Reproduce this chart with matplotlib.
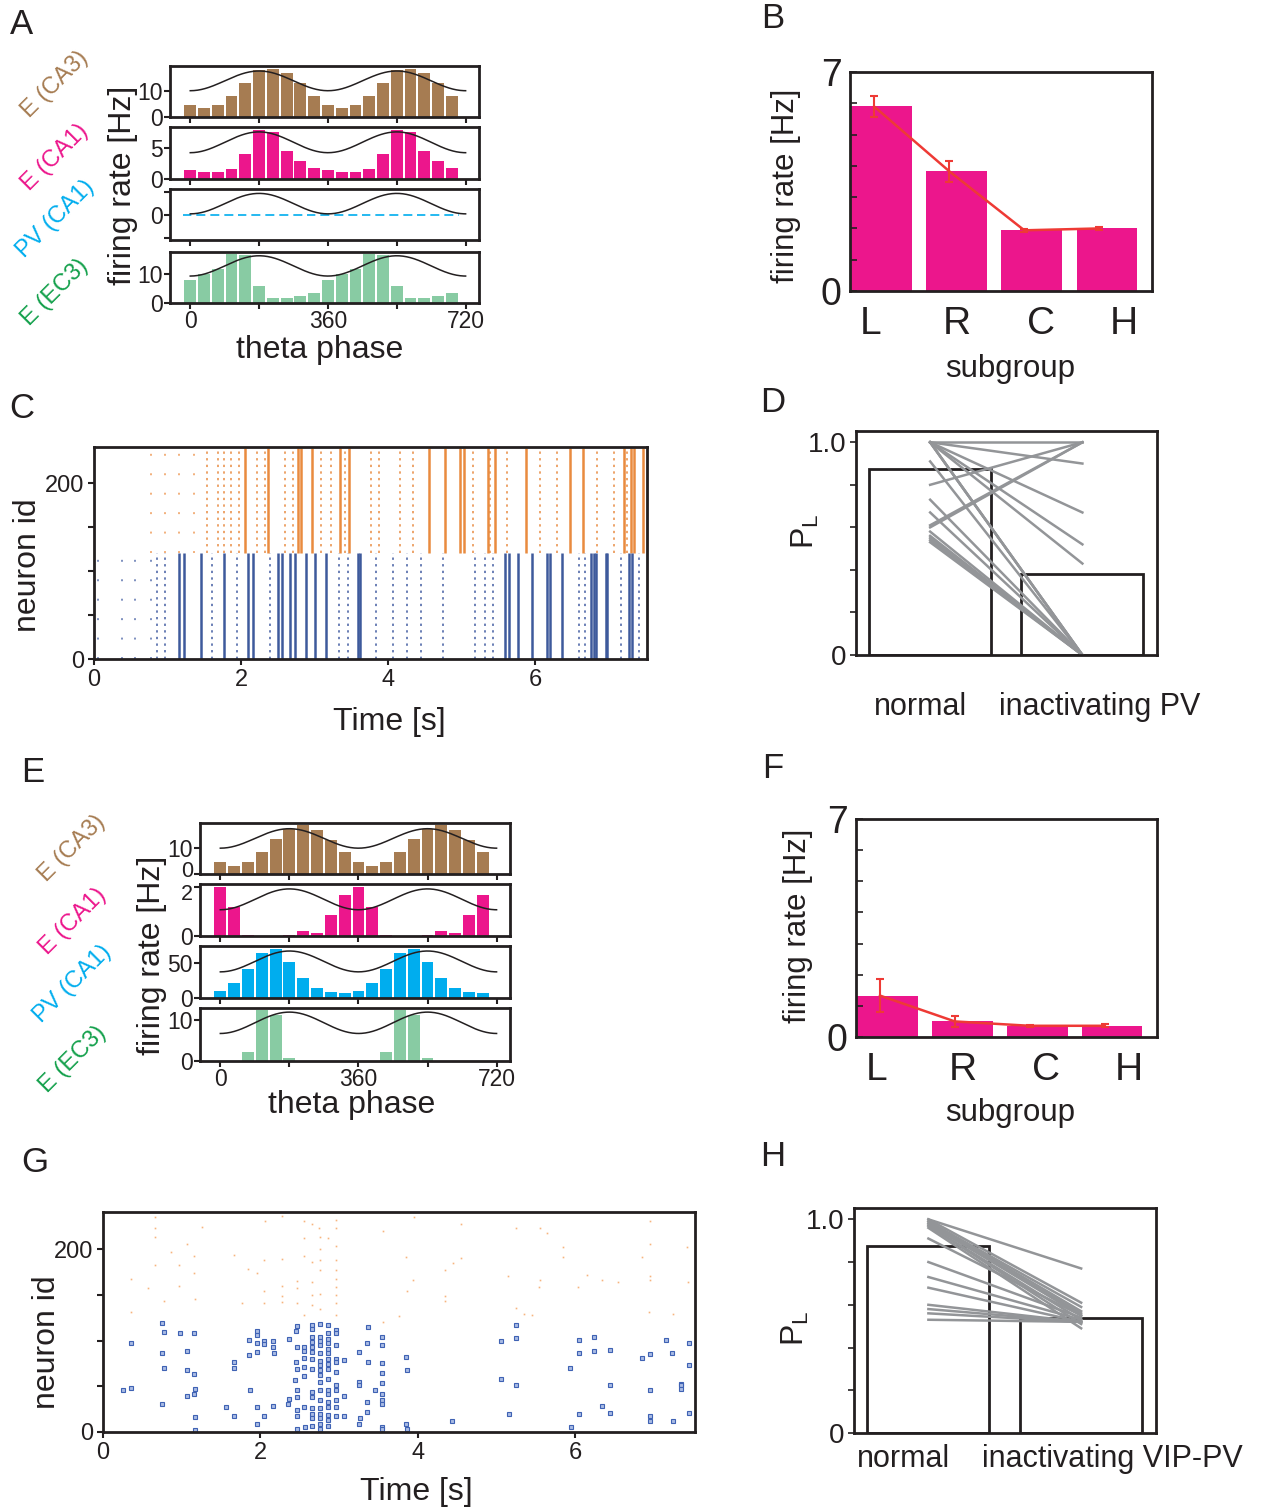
import matplotlib
matplotlib.use('Agg')
import matplotlib.pyplot as plt
import matplotlib.transforms as mtransforms
import numpy as np

plt.rcParams['font.family'] = ['Liberation Sans', 'DejaVu Sans']

# ---------------- data ----------------
phase_bins = [0, 36, 72, 108, 144, 180, 216, 252, 288, 324,
              360, 396, 432, 468, 504, 540, 576, 612, 648, 684]

# panel A (normal)
a_ca3 = [4.4, 3.3, 4.4, 8.1, 13.1, 17.7, 18.4, 16.9, 13.1, 8.1,
         4.4, 3.3, 4.4, 8.1, 13.1, 17.7, 18.4, 16.9, 13.1, 8.1]
a_ca1 = [1.5, 1.1, 1.1, 1.6, 4.1, 8.0, 7.7, 4.6, 2.9, 1.8,
         1.5, 1.1, 1.1, 1.6, 4.1, 8.0, 7.7, 4.6, 2.9, 1.8]
a_pv = [0] * 20
a_ec3 = [8.0, 10.0, 11.7, 16.8, 16.4, 5.9, 1.8, 1.8, 2.5, 3.5,
         8.0, 10.0, 11.7, 16.8, 16.4, 5.9, 1.8, 1.8, 2.5, 3.5]

# panel E (inactivating VIP-PV)
e_ca3 = [4.6, 3.0, 4.6, 8.4, 13.1, 17.1, 18.4, 16.5, 12.8, 8.4,
         4.6, 3.0, 4.6, 8.4, 13.1, 17.1, 18.4, 16.5, 12.8, 8.4]
e_ca1 = [2.0, 1.18, 0.04, 0, 0, 0.04, 0.2, 0.12, 0.86, 1.68,
         2.0, 1.18, 0.04, 0, 0, 0.04, 0.2, 0.12, 0.86, 1.68]
e_pv = [10.5, 21.9, 41.9, 64.3, 70.0, 51.9, 29.0, 14.8, 9.0, 7.6,
        10.5, 21.9, 41.9, 64.3, 70.0, 51.9, 29.0, 14.8, 9.0, 7.6]
e_ec3 = [0, 0, 2.25, 12.3, 11.1, 0.75, 0, 0, 0, 0,
         0, 0, 2.25, 12.3, 11.1, 0.75, 0, 0, 0, 0]

# theta reference wave (min, max) per row
a_wave = [(10, 17.5), (4.3, 7.7), (0.04, 0.83), (9.3, 16.3)]
e_wave = [(9.75, 17.1), (1.07, 1.92), (37.6, 67.6), (6.7, 11.9)]

# panels B / F
subgroups = ['L', 'R', 'C', 'H']
subgroup_label_pos = [-0.15, 1.0, 2.12, 3.22]
b_rate = [5.9, 3.85, 1.94, 2.0]
b_line = [5.9, 3.83, 1.94, 2.0]
b_err = [0.33, 0.33, 0.05, 0.05]
f_rate = [1.33, 0.52, 0.34, 0.36]
f_line = [1.33, 0.5, 0.36, 0.36]
f_err = [0.53, 0.19, 0.04, 0.05]

# panels D / H
d_bar = [0.875, 0.382]
d_normal = [1.0, 1.0, 1.0, 1.0, 1.0, 1.0, 1.0, 1.0, 0.91, 0.80,
            0.73, 0.67, 0.61, 0.60, 0.58, 0.56, 0.55, 0.54, 0.53]
d_inact = [1.0, 0.90, 0.67, 0.52, 0.43, 0.0, 0.0, 0.0, 0.0, 1.0,
           0.0, 0.0, 1.0, 1.0, 0.0, 0.0, 0.0, 0.0, 0.0]
h_bar = [0.874, 0.538]
h_normal = [1.0, 1.0, 0.99, 0.99, 0.98, 0.98, 0.97, 0.97, 0.96,
            0.91, 0.80, 0.73, 0.68, 0.60, 0.58, 0.56, 0.53]
h_inact = [0.77, 0.61, 0.59, 0.57, 0.56, 0.55, 0.53, 0.51, 0.49,
           0.55, 0.54, 0.53, 0.52, 0.52, 0.52, 0.52, 0.52]

# panel C raster: population burst times [s]
c_e_strong = [2.05, 2.36, 2.78, 2.82, 2.96, 3.34, 3.47, 4.56, 4.77, 4.98, 5.03,
              5.36, 5.45, 5.88, 6.47, 6.65, 7.21, 7.30, 7.34, 7.46]
c_e_weak = [1.54, 1.68, 1.77, 1.86, 1.97, 2.22, 2.32, 2.60, 2.70, 3.09, 3.22,
            3.41, 3.77, 3.88, 4.16, 4.34, 5.16, 5.39, 5.61, 6.07, 6.30, 6.84,
            7.07, 7.25]
c_e_sparse = [0.77, 0.97, 1.16, 1.36]
c_i_strong = [1.15, 1.22, 1.46, 1.77, 2.09, 2.16, 2.50, 2.55, 2.67, 2.73, 2.88,
              3.01, 3.16, 3.59, 3.62, 5.59, 5.64, 5.77, 5.95, 6.16, 6.20, 6.37,
              6.76, 6.80, 6.83, 6.96, 6.98, 7.28, 7.32]
c_i_weak = [0.86, 0.97, 1.61, 1.95, 2.40, 3.33, 3.45, 3.84, 4.07, 4.25, 4.45,
            4.75, 5.18, 5.32, 5.43, 6.59, 6.68, 7.16, 7.41]
c_i_sparse = [0.06, 0.38, 0.56, 0.77]

# panel G raster: individual spikes (time [s], neuron id)
g_pv_t = [0.36, 0.26, 0.36, 0.75, 0.77, 0.75, 0.77, 0.75, 0.98, 1.16, 1.07, 1.07,
          1.16, 1.17, 1.16, 1.07, 1.17, 1.17, 1.67, 1.67, 1.56, 1.67, 1.86, 1.96,
          1.96, 1.95, 2.05, 2.05, 2.16, 2.16, 1.96, 1.86, 2.17, 1.87, 1.96, 2.05,
          2.16, 1.96, 2.36, 2.47, 2.45, 2.46, 2.55, 2.55, 2.45, 2.46, 2.55, 2.55,
          2.55, 2.44, 2.46, 2.46, 2.36, 2.35, 2.46, 2.46, 2.55, 2.46, 2.57,
          2.66, 2.66, 2.66, 2.66, 2.66, 2.66, 2.66, 2.66, 2.66, 2.66, 2.66, 2.66,
          2.66, 2.66,
          2.76, 2.76, 2.76, 2.76, 2.76, 2.76, 2.76, 2.76, 2.76, 2.76, 2.76, 2.76,
          2.76, 2.76, 2.76, 2.76, 2.76,
          2.86, 2.86, 2.86, 2.86, 2.86, 2.86, 2.86, 2.86, 2.86, 2.86, 2.86, 2.86,
          2.86, 2.86, 2.86, 2.86, 2.86,
          2.96, 2.96, 2.96, 2.96, 2.96, 2.96, 2.96, 2.96, 2.96, 2.96, 2.96,
          3.06, 3.06, 3.06, 3.36, 3.35, 3.25, 3.37, 3.25, 3.25, 3.35, 3.35, 3.26,
          3.25, 3.46, 3.55, 3.55, 3.55, 3.55, 3.55, 3.55, 3.55, 3.55, 3.55, 3.55,
          3.85, 3.86, 3.85, 3.86, 4.43, 5.25, 5.25, 5.05, 5.05, 5.25, 5.16, 6.05,
          6.24, 6.24, 6.44, 6.05, 5.93, 6.44, 6.34, 6.05, 6.44, 5.94, 6.85, 6.95,
          7.15, 7.23, 7.44, 7.44, 7.34, 7.34, 6.95, 7.34, 7.44, 6.95, 6.95, 7.24]
g_pv_id = [97, 46, 48, 119, 109, 86, 70, 31, 108, 108, 89, 68,
           64, 47, 42, 39, 16, 2, 77, 70, 27, 17, 101, 111,
           106, 98, 100, 96, 100, 93, 88, 84, 86, 46, 27, 18,
           28, 9, 102, 116, 111, 93, 93, 89, 77, 69, 81, 71,
           61, 57, 46, 38, 36, 31, 24, 18, 27, 3, 5,
           117, 113, 104, 99, 93, 88, 80, 69, 44, 38, 26, 20,
           15, 7,
           118, 104, 100, 95, 86, 78, 73, 68, 62, 55, 46, 35,
           26, 20, 15, 9, 3,
           117, 108, 102, 97, 91, 86, 80, 75, 69, 58, 46, 42,
           33, 27, 19, 13, 7,
           112, 108, 95, 80, 77, 66, 51, 46, 35, 27, 18,
           79, 39, 17, 115, 98, 88, 77, 55, 51, 33, 22, 15,
           9, 46, 104, 95, 76, 65, 54, 42, 35, 31, 5, 3,
           82, 68, 9, 3, 12, 117, 103, 100, 58, 51, 20, 101,
           104, 89, 90, 86, 70, 51, 28, 20, 21, 6, 81, 85,
           101, 86, 98, 73, 53, 51, 46, 47, 21, 17, 12, 12]
g_e_t = [0.66, 0.66, 0.66, 1.26, 1.07, 0.86, 1.15, 0.66, 0.97, 0.36, 0.57, 0.96,
         1.16, 0.77, 1.17, 0.36, 1.67, 1.84, 1.96, 2.06, 2.27, 2.05, 2.27, 2.05,
         2.05, 1.77, 2.27, 2.27, 2.27, 2.46, 2.46, 2.55, 2.55, 2.55, 2.66, 2.66,
         2.66, 2.66, 2.66, 2.74, 2.76, 2.76, 2.76, 2.76, 2.76, 2.76, 2.86,
         2.96, 2.96, 2.96, 2.96, 2.96, 2.96, 2.96, 2.96, 2.96, 2.96,
         3.56, 3.56, 2.55, 2.46,
         3.95, 4.55, 5.25, 5.55, 5.64, 5.84, 3.85, 4.55, 4.45, 5.84, 4.34, 5.14,
         6.15, 6.34, 6.54, 3.94, 5.55, 5.54, 6.03, 3.86, 4.34, 4.34, 5.25, 5.35,
         5.45, 3.76, 6.95, 6.95, 7.42, 6.85, 6.95, 6.95, 6.93, 7.24, 7.43]
g_e_id = [236, 223, 214, 225, 206, 197, 193, 183, 183, 168, 158, 160,
          174, 143, 146, 131, 194, 179, 174, 231, 237, 188, 190, 154,
          141, 141, 160, 149, 142, 165, 158, 231, 212, 193, 228, 186,
          164, 150, 139, 223, 214, 201, 188, 177, 151, 135, 212,
          232, 224, 204, 188, 177, 168, 159, 150, 141, 128,
          220, 121, 128, 141,
          235, 228, 224, 224, 218, 203, 192, 191, 185, 192, 177, 171,
          172, 167, 164, 167, 167, 159, 159, 155, 149, 143, 136, 129,
          128, 127, 231, 206, 203, 192, 171, 167, 131, 129, 164]

# ---------------- styling ----------------
W, H = 1261, 1510
fig = plt.figure(figsize=(W / 100, H / 100), dpi=100)

K = '#231f20'
brown = '#a67c52'
magenta = '#ec168c'
cyan = '#00adee'
green_bar = '#88cba3'
green_txt = '#13a04b'
red = '#ee3a35'
grey = '#939598'
orange = '#e98b3f'
blue = '#3e5a9c'


def box(x0, y0, x1, y1):
    ax = fig.add_axes([x0 / W, 1 - y1 / H, (x1 - x0) / W, (y1 - y0) / H])
    for s in ax.spines.values():
        s.set_linewidth(2)
        s.set_color(K)
    return ax


def ftext(x, y, s, **kw):
    fig.text(x / W, 1 - y / H, s, ha='center', va='center', color=K, **kw)


def nudge(label, dy_pt):
    label.set_transform(label.get_transform() +
                        mtransforms.ScaledTranslation(0, dy_pt / 72, fig.dpi_scale_trans))


theta_x = np.linspace(0, 720, 300)
wave = (1 - np.cos(np.radians(theta_x))) / 2


def theta_row(ax, rates, color, wv, ylim, yticks, ylabels, bottom, dashed=False):
    if dashed:
        ax.hlines(rates, np.array(phase_bins) - 18, np.array(phase_bins) + 18,
                  colors=color, linestyles=(0, (5, 3)), lw=1.2)
    else:
        ax.bar(phase_bins, rates, width=31, color=color)
    ax.plot(theta_x, wv[0] + (wv[1] - wv[0]) * wave, color=K, lw=1.1)
    ax.set_xlim(-53, 755)
    ax.set_ylim(*ylim)
    ax.set_yticks(yticks)
    ax.set_yticklabels(ylabels)
    ax.set_xticks([0, 180, 360, 540, 720])
    if bottom:
        ax.set_xticklabels(['0', '', '360', '', '720'])
    else:
        ax.set_xticklabels([])
    ax.tick_params(direction='out', length=4, width=1.5, labelsize=16.5,
                   pad=1, colors=K)


def theta_panel(x0, x1, rows, data, colors, waves, ylims, ytk, ylbl):
    axes = []
    for i, (r0, r1) in enumerate(rows):
        ax = box(x0, r0, x1, r1)
        theta_row(ax, data[i], colors[i], waves[i], ylims[i], ytk[i], ylbl[i],
                  i == 3, dashed=(colors[i] == cyan and max(data[i]) == 0))
        axes.append(ax)
    return axes


# ---- panel A ----
theta_panel(170, 479, [(66, 117), (127, 179), (189, 240), (252, 303)],
            [a_ca3, a_ca1, a_pv, a_ec3], [brown, magenta, cyan, green_bar],
            a_wave, [(0, 19.4), (0, 8.5), (-0.97, 1.0), (0, 17.6)],
            [[0, 10], [0, 5], [-0.9, 0, 0.9], [0, 10]],
            [['0', '10'], ['0', '5'], ['', '0', ''], ['0', '10']])
ftext(123, 185, 'firing rate [Hz]', rotation=90, fontsize=23)
ftext(320, 350, 'theta phase', fontsize=23)

# ---- panel E ----
e_axes = theta_panel(200, 510, [(823, 874), (884, 936), (946, 998), (1008, 1061)],
                     [e_ca3, e_ca1, e_pv, e_ec3], [brown, magenta, cyan, green_bar],
                     e_wave, [(0, 19.25), (0, 2.12), (0, 74.8), (0, 12.9)],
                     [[0, 10], [0, 2], [0, 50], [0, 10]],
                     [['0', '10'], ['0', '2'], ['0', '50'], ['0', '10']])
# the CA3 "0" and the CA1 "2" sit very close together: pull them apart a little
for lbl in (e_axes[0].get_yticklabels()[0], e_axes[1].get_yticklabels()[1]):
    lbl.set_fontsize(15.5)
nudge(e_axes[0].get_yticklabels()[0], 3.5)
nudge(e_axes[1].get_yticklabels()[1], -3.5)
ftext(152, 955, 'firing rate [Hz]', rotation=90, fontsize=23)
ftext(352, 1105, 'theta phase', fontsize=23)

# group labels
for (cx, cy), (txt, col) in zip(
        [(55, 84), (55, 157), (56, 219), (55, 292)],
        [('E (CA3)', brown), ('E (CA1)', magenta), ('PV (CA1)', cyan), ('E (EC3)', green_txt)]):
    fig.text(cx / W, 1 - cy / H, txt, rotation=45, ha='center', va='center',
             fontsize=17, color=col)
for (cx, cy), (txt, col) in zip(
        [(72, 848), (73, 921), (73, 984), (73, 1059)],
        [('E (CA3)', brown), ('E (CA1)', magenta), ('PV (CA1)', cyan), ('E (EC3)', green_txt)]):
    fig.text(cx / W, 1 - cy / H, txt, rotation=45, ha='center', va='center',
             fontsize=17, color=col)


# ---- panels B / F ----
def rate_panel(ax, rate, line, err):
    x = np.arange(len(subgroups))
    ax.bar(x, rate, width=0.81, color=magenta)
    ax.errorbar(x - 0.1, line, yerr=err, color=red, lw=1.8, capsize=3,
                elinewidth=1.5, capthick=1.5)
    ax.set_xlim(-0.42, 3.6)
    ax.set_ylim(0, 7)
    ax.set_yticks(range(8))
    ax.set_yticklabels(['0', '', '', '', '', '', '', '7'])
    ax.set_xticks(subgroup_label_pos)
    ax.set_xticklabels(subgroups)
    ax.tick_params(axis='y', direction='in', length=5, width=1.2, labelsize=27,
                   pad=6, colors=K)
    ax.tick_params(axis='x', length=0, labelsize=28, pad=11, colors=K)


axB = box(850, 72, 1152, 291)
rate_panel(axB, b_rate, b_line, b_err)
ftext(786, 186, 'firing rate [Hz]', rotation=90, fontsize=22.5)
ftext(1010, 369, 'subgroup', fontsize=22.5)

axF = box(856, 819, 1157, 1037)
rate_panel(axF, f_rate, f_line, f_err)
ftext(798, 926, 'firing rate [Hz]', rotation=90, fontsize=22.5)
ftext(1010, 1113, 'subgroup', fontsize=22.5)


# ---- panels D / H ----
def pl_panel(ax, bars, normal, inact):
    ax.bar([0, 1], bars, width=0.8, facecolor='white', edgecolor=K, lw=2)
    for a, b in zip(normal, inact):
        ax.plot([0, 1], [a, b], color=grey, lw=1.8)
    ax.set_xlim(-0.487, 1.49)
    ax.set_ylim(0, 1.053)
    ax.set_yticks([0, 0.2, 0.4, 0.6, 0.8, 1.0])
    ax.set_yticklabels(['0', '', '', '', '', '1.0'])
    ax.set_xticks([])
    ax.tick_params(axis='y', direction='out', length=4, width=1.2, labelsize=20,
                   pad=3, colors=K)


axD = box(856, 431, 1157, 655)
pl_panel(axD, d_bar, d_normal, d_inact)
ftext(805, 531, r'$\mathregular{P_L}$', rotation=90, fontsize=23)
ftext(921, 707, 'normal', fontsize=22)
ftext(1100, 707, 'inactivating PV', fontsize=22)

axH = box(854, 1208, 1156, 1433)
pl_panel(axH, h_bar, h_normal, h_inact)
ftext(795, 1328, r'$\mathregular{P_L}$', rotation=90, fontsize=23)
ftext(904, 1459, 'normal', fontsize=22)
ftext(1112, 1459, 'inactivating VIP-PV', fontsize=22)


# ---- rasters ----
def raster_axes(ax):
    ax.set_xlim(0, 7.52)
    ax.set_ylim(0, 241)
    ax.set_yticks([0, 50, 100, 150, 200])
    ax.set_yticklabels(['0', '', '', '', '200'])
    ax.set_xticks([0, 2, 4, 6])
    ax.tick_params(direction='out', length=4, width=1.5, labelsize=17, pad=3,
                   colors=K)


axC = box(94, 447, 647, 659)
axC.vlines(c_e_sparse, 120, 240, colors='#f2b07c', linestyles=(0, (1, 9)), lw=1.4)
axC.vlines(c_e_weak, 120, 240, colors='#eda46a', linestyles=(0, (1.2, 2.2)), lw=1.4)
axC.vlines(c_e_strong, 120, 240, colors=orange, lw=1.8)
axC.vlines(c_i_sparse, 0, 120, colors='#7d8fbf', linestyles=(0, (1, 9)), lw=1.4)
axC.vlines(c_i_weak, 0, 120, colors='#6a7fb5', linestyles=(0, (1.2, 2.2)), lw=1.4)
axC.vlines(c_i_strong, 0, 120, colors=blue, lw=1.8)
raster_axes(axC)
ftext(28, 565, 'neuron id', rotation=90, fontsize=23)
ftext(389, 722, 'Time [s]', fontsize=23)

axG = box(103, 1212, 695, 1432)
axG.plot(g_e_t, g_e_id, ls='none', marker='s', ms=1.2, mec='none', mfc='#f6b47e')
axG.plot(g_pv_t, g_pv_id, ls='none', marker='s', ms=3, mfc='#a9bbe4', mec='#3f62b4',
         mew=0.8)
raster_axes(axG)
ftext(47, 1342, 'neuron id', rotation=90, fontsize=23)
ftext(416, 1492, 'Time [s]', fontsize=23)

# ---- panel letters ----
for lab, (x, y) in {'A': (22, 25), 'B': (773, 18), 'C': (22, 408), 'D': (773, 402),
                    'E': (33, 773), 'F': (773, 768), 'G': (35, 1163),
                    'H': (773, 1157)}.items():
    ftext(x, y, lab, fontsize=25)

fig.savefig('out.png', dpi=100)
